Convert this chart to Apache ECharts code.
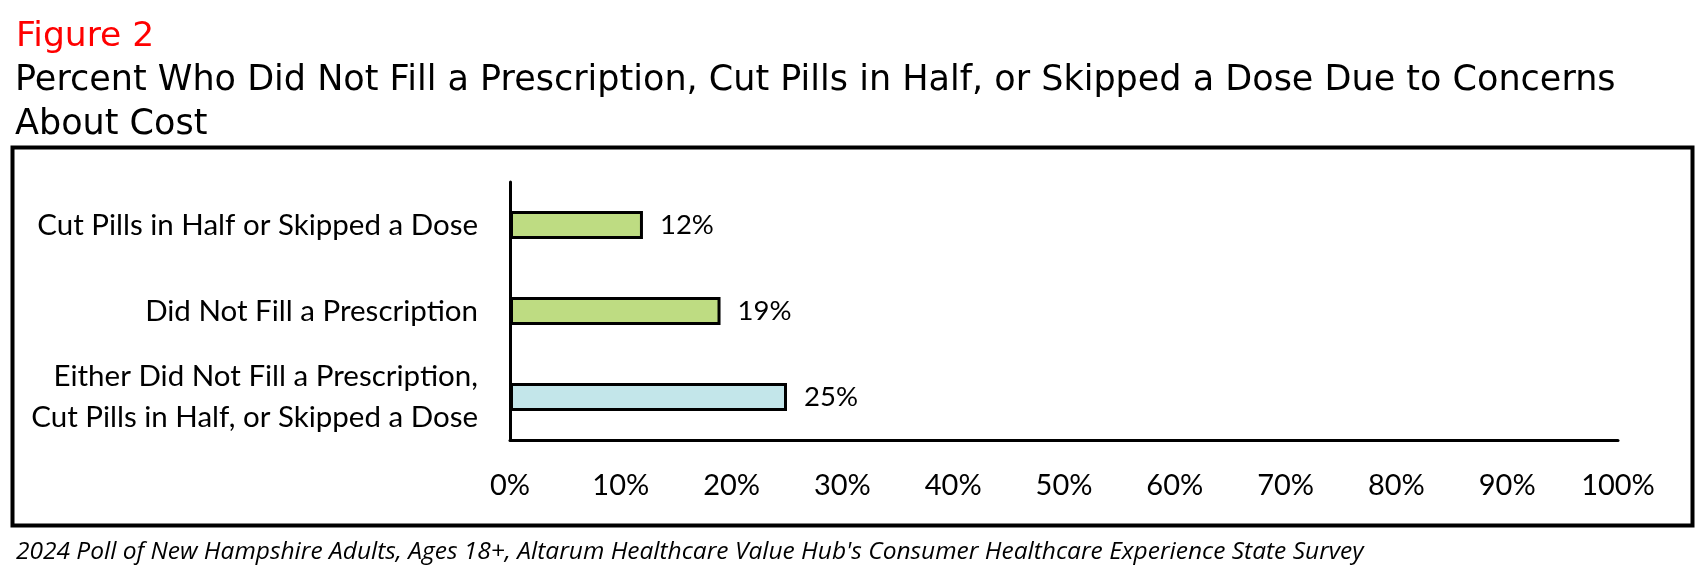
<!DOCTYPE html>
<html>
<head>
<meta charset="utf-8">
<script src="https://cdn.jsdelivr.net/npm/echarts@6/dist/echarts.min.js"></script>
<style>
html,body{margin:0;padding:0;background:#fff;}
#chart{width:1707px;height:575px;}
</style>
</head>
<body>
<div id="chart"></div>
<script>
const categories = [
  "Cut Pills in Half or Skipped a Dose",
  "Did Not Fill a Prescription",
  "Either Did Not Fill a Prescription,\nCut Pills in Half, or Skipped a Dose"
];
const values = [12, 19, 25];
const barColors = ["#BEDC82", "#BEDC82", "#C3E6EA"];
const tickValues = [0, 10, 20, 30, 40, 50, 60, 70, 80, 90, 100];
const figureLabel = "Figure 2";
const titleText = "Percent Who Did Not Fill a Prescription, Cut Pills in Half, or Skipped a Dose Due to Concerns\nAbout Cost";
const footnote = "2024 Poll of New Hampshire Adults, Ages 18+, Altarum Healthcare Value Hub's Consumer Healthcare Experience State Survey";

const chart = echarts.init(document.getElementById('chart'), null, {renderer: 'canvas'});
const mainFont = 'Lato, "Open Sans", sans-serif';
const titleFont = '"DejaVu Sans", Lato, sans-serif';
chart.setOption({
  animation: false,
  backgroundColor: '#ffffff',
  title: [
    {text: figureLabel, left: 11, top: 15, textStyle: {color: '#FF0000', fontFamily: titleFont, fontSize: 34.5, fontWeight: 'normal'}},
    {text: titleText, left: 10, top: 54, textStyle: {color: '#000', fontFamily: titleFont, fontSize: 35, fontWeight: 'normal', lineHeight: 44}},
    {text: footnote, left: 11, top: 535, textStyle: {color: '#000', fontFamily: '"Open Sans", sans-serif', fontStyle: 'italic', fontSize: 24.5, fontWeight: 'normal'}}
  ],
  graphic: [
    {type: 'rect', left: 10, top: 145, shape: {width: 1680, height: 378}, style: {fill: 'none', stroke: '#000', lineWidth: 4}, silent: true}
  ],
  grid: {left: 510, right: 89, top: 182, bottom: 135, containLabel: false},
  xAxis: {
    type: 'value', min: 0, max: 100, interval: 10,
    axisLine: {show: true, lineStyle: {color: '#000', width: 3}},
    axisTick: {show: false},
    splitLine: {show: false},
    axisLabel: {
      margin: 31, color: '#000', fontFamily: mainFont, fontSize: 29,
      formatter: v => tickValues.includes(v) ? v + '%' : ''
    }
  },
  yAxis: {
    type: 'category', data: categories, inverse: true,
    axisLine: {show: true, lineStyle: {color: '#000', width: 3}},
    axisTick: {show: false},
    axisLabel: {margin: 32, color: '#000', fontFamily: mainFont, fontSize: 29.5, lineHeight: 41, align: 'right'}
  },
  series: [{
    type: 'bar',
    data: values.map((v, i) => ({value: v, itemStyle: {color: barColors[i]}})),
    barWidth: 28,
    itemStyle: {borderColor: '#000', borderWidth: 3},
    label: {show: true, position: 'right', distance: 17, formatter: '{c}%', color: '#000', fontFamily: mainFont, fontSize: 27.5}
  }]
});
</script>
</body>
</html>
